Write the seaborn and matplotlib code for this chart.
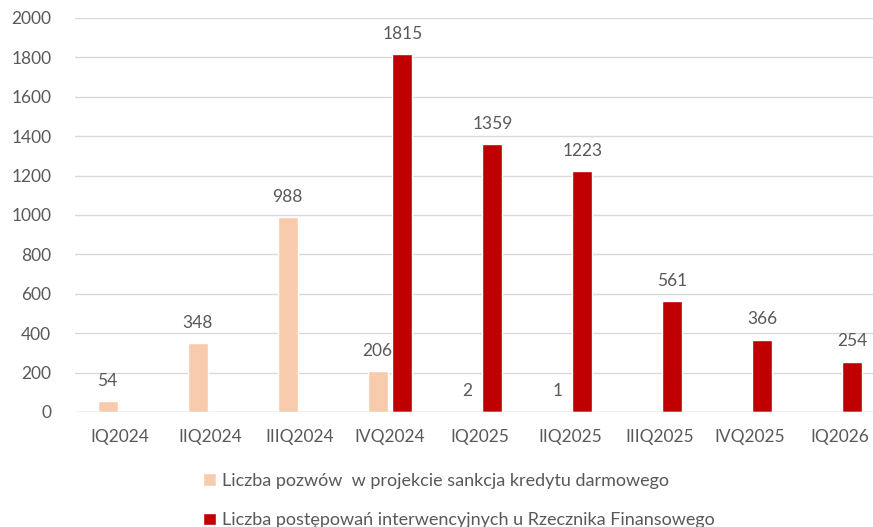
import numpy as np
import pandas as pd
import matplotlib
matplotlib.use("Agg")
import matplotlib.pyplot as plt
import seaborn as sns

quarters = ["IQ2024", "IIQ2024", "IIIQ2024", "IVQ2024", "IQ2025",
            "IIQ2025", "IIIQ2025", "IVQ2025", "IQ2026"]
pozwy = [54, 348, 988, 206, 2, 1, np.nan, np.nan, np.nan]
postepowania = [np.nan, np.nan, np.nan, 1815, 1359, 1223, 561, 366, 254]
series_names = ["Liczba pozwów  w projekcie sankcja kredytu darmowego",
                "Liczba postępowań interwencyjnych u Rzecznika Finansowego"]
colors = ["#F8CBAD", "#C00000"]
text_color = "#595959"

df = pd.concat([
    pd.DataFrame({"kwartal": quarters, "wartosc": pozwy, "seria": series_names[0]}),
    pd.DataFrame({"kwartal": quarters, "wartosc": postepowania, "seria": series_names[1]}),
]).dropna()

sns.set_style("white")
plt.rcParams["font.family"] = ["Lato", "DejaVu Sans"]

W, H = 873, 527
fig = plt.figure(figsize=(W / 100, H / 100), dpi=100)
ax = fig.add_axes([75 / W, 115 / H, (873 - 75) / W, 394 / H])

sns.barplot(data=df, x="kwartal", y="wartosc", hue="seria", order=quarters,
            hue_order=series_names, palette=colors, width=0.55, gap=0.2,
            saturation=1, ax=ax, legend=True)

for cont in ax.containers:
    ax.bar_label(cont, fmt="%g", padding=9, fontsize=12.5, color=text_color)

ax.set_ylim(0, 2000)
ax.set_xlim(-0.5, 8.5 - 12 / 90)
ax.set_yticks(np.arange(0, 2001, 200))
ax.yaxis.grid(True, color="#D9D9D9", linewidth=1)
ax.set_axisbelow(True)
for s in ax.spines.values():
    s.set_visible(False)
ax.axhline(0, color="#D9D9D9", linewidth=1)
ax.tick_params(axis="both", length=0, labelsize=12.5, colors=text_color)
ax.tick_params(axis="x", pad=12)
ax.tick_params(axis="y", pad=17)
ax.set_xlabel("")
ax.set_ylabel("")

handles, labels = ax.get_legend_handles_labels()
ax.get_legend().remove()
leg = fig.legend(handles, labels, loc="upper left",
                 bbox_to_anchor=(203 / W, 1 - 473 / H), frameon=False,
                 borderpad=0, borderaxespad=0,
                 fontsize=13, labelcolor=text_color, handlelength=0.7,
                 handleheight=0.7, handletextpad=0.35, labelspacing=1.3)

fig.savefig("out.png", dpi=100)
